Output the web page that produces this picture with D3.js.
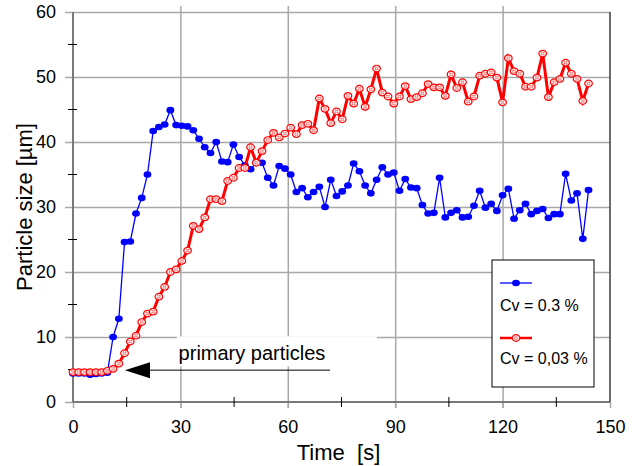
<!DOCTYPE html>
<html>
<head>
<meta charset="utf-8">
<script src="https://d3js.org/d3.v7.min.js"></script>
<style>
  body { margin: 0; background: #fff; }
  text { font-family: "Liberation Sans", Arial, sans-serif; }
</style>
</head>
<body>
<div id="viz"></div>
<script>
// measurement times [s]
var times = [0,1.6,3.2,4.8,6.4,8,9.6,11.2,12.8,14.4,16,17.6,19.2,20.8,22.4,24,25.6,27.2,28.8,30.4,
  32,33.6,35.2,36.8,38.4,40,41.6,43.2,44.8,46.4,48,49.6,51.2,52.8,54.4,56,57.6,59.2,60.8,62.4,
  64,65.6,67.2,68.8,70.4,72,73.6,75.2,76.8,78.4,80,81.6,83.2,84.8,86.4,88,89.6,91.2,92.8,94.4,
  96,97.6,99.2,100.8,102.4,104,105.6,107.2,108.8,110.4,112,113.6,115.2,116.8,118.4,120,121.6,123.2,124.8,126.4,
  128,129.6,131.2,132.8,134.4,136,137.6,139.2,140.8,142.4,144];

// Cv = 0.3 %
var blueValues = [4.4,4.4,4.4,4.2,4.3,4.4,4.5,10.0,12.8,24.6,
  24.7,29.0,31.4,35.0,41.7,42.3,42.7,44.9,42.6,42.5,
  42.4,41.8,40.5,39.2,38.3,40.0,37.0,36.9,39.6,37.7,
  36.4,35.8,36.9,36.8,34.5,33.3,36.3,35.9,35.0,32.3,
  32.9,31.5,32.3,33.1,30.0,34.2,31.7,32.4,33.3,36.7,
  35.5,33.3,32.1,34.2,36.1,35.0,35.3,32.5,34.3,33.0,
  32.9,30.3,29.0,29.1,34.5,28.4,29.1,29.5,28.4,28.5,
  30.2,32.5,29.9,30.5,29.4,31.8,32.8,28.2,29.5,30.5,
  28.9,29.4,29.7,28.3,28.9,28.9,35.1,31.0,32.1,25.1,
  32.6];

// Cv = 0,03 %
var redValues = [4.6,4.6,4.6,4.6,4.6,4.6,4.8,5.1,5.9,7.5,
  9.3,10.2,12.3,13.6,13.9,16.2,17.7,20.0,20.4,21.7,
  23.3,27.1,26.6,28.4,31.2,31.2,30.9,34.0,34.5,36.0,
  36.0,39.2,36.8,38.6,40.3,41.4,40.7,41.3,42.2,41.2,
  42.6,42.8,41.8,46.7,45.1,42.9,44.7,43.5,47.1,45.9,
  48.2,45.4,48.1,51.3,47.6,47.0,45.9,47.0,48.6,46.6,
  46.9,47.5,48.9,48.4,48.4,47.1,50.4,48.3,49.2,46.2,
  47.0,50.2,50.5,50.7,49.9,46.1,52.9,50.9,50.5,48.5,
  48.5,49.9,53.6,46.9,49.2,49.7,52.2,50.5,49.7,46.3,
  49.0];

var xTicks = [0,30,60,90,120,150];
var xMinor = [15,45,75,105,135];
var yTicks = [0,10,20,30,40,50,60];
var yMinor = [5,15,25,35,45,55];
var seriesNames = ["Cv = 0.3 %", "Cv = 0,03 %"];

var margin = {top: 12, right: 27, bottom: 64, left: 73},
    width = 637 - margin.left - margin.right,
    height = 466 - margin.top - margin.bottom;

var svg = d3.select("#viz")
  .append("svg")
    .attr("width", 637)
    .attr("height", 466)
  .append("g")
    .attr("transform", "translate(" + margin.left + "," + margin.top + ")");

var x = d3.scaleLinear().domain([0, 150]).range([0, width]);
var y = d3.scaleLinear().domain([0, 60]).range([height, 0]);

var gridColor = "#a8a8a8";

// vertical grid (extends a bit below the axis as major tick)
svg.append("g")
    .attr("transform", "translate(0," + height + ")")
    .call(d3.axisBottom(x).tickValues(xTicks.slice(1, -1)).tickSize(-height - 6).tickFormat(""))
    .call(function(g) { g.select(".domain").remove(); })
    .call(function(g) { g.selectAll("line").attr("y1", 6).attr("stroke", gridColor).attr("stroke-width", 1.5); });

// horizontal grid
svg.append("g")
    .call(d3.axisLeft(y).tickValues(yTicks.slice(1)).tickSize(-width).tickFormat(""))
    .call(function(g) { g.select(".domain").remove(); })
    .call(function(g) { g.selectAll("line").attr("stroke", gridColor).attr("stroke-width", 1.5); });

// Y axis
svg.append("g")
    .call(d3.axisLeft(y).tickValues(yTicks).tickSize(8).tickPadding(9))
    .call(function(g) { g.select(".domain").remove(); })
    .call(function(g) { g.selectAll("line").attr("stroke", gridColor).attr("stroke-width", 1.5); })
    .call(function(g) { g.selectAll("text").attr("font-size", 18).attr("fill", "#000")
        .style("font-family", "'Liberation Sans', Arial, sans-serif"); });

// X axis
svg.append("g")
    .attr("transform", "translate(0," + height + ")")
    .call(d3.axisBottom(x).tickValues(xTicks).tickSize(6).tickPadding(12))
    .call(function(g) { g.select(".domain").remove(); })
    .call(function(g) { g.selectAll("line").attr("stroke", gridColor).attr("stroke-width", 1.5); })
    .call(function(g) { g.selectAll("text").attr("font-size", 18).attr("fill", "#000")
        .style("font-family", "'Liberation Sans', Arial, sans-serif"); });

// axis lines and right border
svg.append("line").attr("x1", 0).attr("x2", 0).attr("y1", 0).attr("y2", height)
    .attr("stroke", "#7a7a7a").attr("stroke-width", 2);
svg.append("line").attr("x1", 0).attr("x2", width).attr("y1", height).attr("y2", height)
    .attr("stroke", "#7a7a7a").attr("stroke-width", 2);
svg.append("line").attr("x1", width).attr("x2", width).attr("y1", 0).attr("y2", height)
    .attr("stroke", "#3a3a3a").attr("stroke-width", 1.5);

// minor ticks crossing the axes
svg.append("g").selectAll("line").data(yMinor).enter().append("line")
    .attr("x1", -5).attr("x2", 4)
    .attr("y1", function(d) { return y(d); }).attr("y2", function(d) { return y(d); })
    .attr("stroke", "#000").attr("stroke-width", 1);
svg.append("g").selectAll("line").data(xMinor).enter().append("line")
    .attr("y1", height - 5).attr("y2", height + 5)
    .attr("x1", function(d) { return x(d); }).attr("x2", function(d) { return x(d); })
    .attr("stroke", "#000").attr("stroke-width", 1);

// axis titles
svg.append("text")
    .attr("x", width / 2 - 3).attr("y", height + 58)
    .attr("text-anchor", "middle").attr("font-size", 22)
    .style("white-space", "pre")
    .text("Time  [s]");

svg.append("text")
    .attr("transform", "translate(" + (-41) + "," + (height / 2) + ") rotate(-90)")
    .attr("text-anchor", "middle").attr("font-size", 22)
    .text("Particle size [µm]");

// annotation "primary particles"
svg.append("rect")
    .attr("x", x(29)).attr("y", y(10.1)).attr("width", 200).attr("height", 30)
    .attr("fill", "#fff");
svg.append("text")
    .attr("x", x(29.5)).attr("y", y(10.1) + 24)
    .attr("font-size", 20)
    .text("primary particles");
svg.append("line")
    .attr("x1", x(21.3)).attr("x2", x(71.8)).attr("y1", y(4.9)).attr("y2", y(4.9))
    .attr("stroke", "#000").attr("stroke-width", 1);
svg.append("path")
    .attr("d", "M" + x(14.5) + "," + y(4.9) + "L" + x(21.5) + "," + (y(4.9) - 8) + "L" + x(21.5) + "," + (y(4.9) + 8) + "Z")
    .attr("fill", "#000");

// data
var blueData = times.map(function(t, i) { return {t: t, v: blueValues[i]}; });
var redData = times.map(function(t, i) { return {t: t, v: redValues[i]}; });

var line = d3.line()
    .x(function(d) { return x(d.t); })
    .y(function(d) { return y(d.v); });

// blue series
svg.append("path").datum(blueData)
    .attr("d", line)
    .attr("fill", "none").attr("stroke", "#0000ff").attr("stroke-width", 1.3);
svg.append("g").selectAll("ellipse").data(blueData).enter().append("ellipse")
    .attr("cx", function(d) { return x(d.t); })
    .attr("cy", function(d) { return y(d.v); })
    .attr("rx", 3.9).attr("ry", 3.3)
    .attr("fill", "#0000ff");

// red series
svg.append("path").datum(redData)
    .attr("d", line)
    .attr("fill", "none").attr("stroke", "#ff0000").attr("stroke-width", 3);

function redMarker(sel) {
  sel.append("ellipse")
      .attr("rx", 3.8).attr("ry", 3.3)
      .attr("fill", "#fff").attr("stroke", "#ff0000").attr("stroke-width", 1.2);
  sel.append("path")
      .attr("d", "M-2,-1H2M-2,1H2M-1,-2V2M1,-2V2")
      .attr("stroke", "#ff6060").attr("stroke-width", 0.6);
}

svg.append("g").selectAll("g").data(redData).enter().append("g")
    .attr("transform", function(d) { return "translate(" + x(d.t) + "," + y(d.v) + ")"; })
    .call(redMarker);

// legend
var legend = svg.append("g").attr("transform", "translate(" + (492 - margin.left) + "," + (260 - margin.top) + ")");
legend.append("rect")
    .attr("width", 102).attr("height", 127)
    .attr("fill", "#fff").attr("stroke", "#000").attr("stroke-width", 1);

legend.append("line").attr("x1", 8).attr("x2", 40).attr("y1", 23).attr("y2", 23)
    .attr("stroke", "#0000ff").attr("stroke-width", 1.3);
legend.append("ellipse").attr("cx", 24).attr("cy", 23).attr("rx", 3.9).attr("ry", 3.3).attr("fill", "#0000ff");
legend.append("text").attr("x", 8).attr("y", 51).attr("font-size", 16).text(seriesNames[0]);

legend.append("line").attr("x1", 8).attr("x2", 40).attr("y1", 78).attr("y2", 78)
    .attr("stroke", "#ff0000").attr("stroke-width", 2.5);
legend.append("g").attr("transform", "translate(24,78)").call(redMarker);
legend.append("text").attr("x", 8).attr("y", 104).attr("font-size", 16).text(seriesNames[1]);
</script>
</body>
</html>
